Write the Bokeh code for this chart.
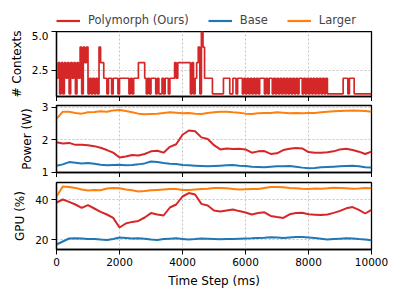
from bokeh.plotting import figure
from bokeh.layouts import column
from bokeh.models import Range1d, Legend, LegendItem, FixedTicker
from bokeh.embed import file_html
from bokeh.resources import INLINE

# ---------------- data ----------------
# number of contexts, sampled every 50 ms (step signal)
ctx_step_ms = 50
ctx = [
    2, 3, 1, 3, 1, 3, 2, 3, 1, 3, 2, 3, 1, 3, 2, 4, 1, 4, 3, 4,   # 0-1 s
    1, 2, 1, 2, 1, 2, 1, 4, 3, 3, 2, 2, 1, 2, 2, 1, 2, 2, 2, 1,   # 1-2 s
    2, 2, 2, 2, 2, 2, 1, 2, 1, 2, 2, 2, 3, 3, 3, 3, 2, 1, 2, 1,   # 2-3 s
    2, 2, 2, 1, 2, 1, 1, 2, 1, 2, 2, 1, 2, 2, 2, 3, 2, 3, 3, 3,   # 3-4 s
    3, 3, 3, 3, 3, 1, 3, 1, 2, 3, 4, 1, 5, 4, 2, 2, 2, 2, 2, 1,   # 4-5 s
    1, 1, 1, 1, 1, 1, 2, 2, 2, 2, 1, 1, 2, 2, 1, 2, 2, 2, 1, 2,   # 5-6 s
    1, 2, 1, 2, 1, 2, 1, 2, 1, 2, 2, 2, 1, 2, 1, 2, 2, 1, 2, 1,   # 6-7 s
    2, 1, 2, 1, 2, 1, 2, 1, 2, 1, 2, 1, 2, 1, 2, 2, 1, 2, 1, 2,   # 7-8 s
    1, 2, 1, 2, 1, 2, 1, 2, 1, 2, 1, 2, 1, 1, 1, 1, 1, 1, 1, 1,   # 8-9 s
    1, 1, 2, 2, 2, 1, 2, 2, 2, 1, 1, 1, 1, 1, 1, 1, 1, 1, 1, 1,   # 9-10 s
    1,
]
t_ctx = [i * ctx_step_ms for i in range(len(ctx))]

# power / GPU series, sampled every 200 ms
t_ms = list(range(0, 10001, 200))

power_poly = [1.92, 1.88, 1.90, 1.84, 1.84, 1.83, 1.80, 1.75, 1.68, 1.60,
              1.45, 1.48, 1.53, 1.51, 1.56, 1.64, 1.66, 1.60, 1.78, 1.86,
              2.15, 2.28, 2.26, 2.07, 2.02, 1.83, 1.70, 1.73, 1.71, 1.72,
              1.70, 1.60, 1.64, 1.65, 1.56, 1.58, 1.68, 1.72, 1.74, 1.73,
              1.62, 1.60, 1.60, 1.61, 1.64, 1.70, 1.72, 1.68, 1.63, 1.56,
              1.63]
power_base = [1.20, 1.24, 1.31, 1.29, 1.27, 1.28, 1.26, 1.23, 1.21, 1.22,
              1.23, 1.21, 1.22, 1.24, 1.27, 1.33, 1.31, 1.28, 1.26, 1.25,
              1.22, 1.21, 1.20, 1.19, 1.18, 1.19, 1.20, 1.21, 1.22, 1.20,
              1.19, 1.17, 1.16, 1.15, 1.17, 1.18, 1.18, 1.19, 1.17, 1.14,
              1.12, 1.13, 1.15, 1.16, 1.17, 1.18, 1.19, 1.20, 1.18, 1.15,
              1.14]
power_large = [2.64, 2.86, 2.86, 2.82, 2.80, 2.84, 2.85, 2.87, 2.86, 2.90,
               2.91, 2.88, 2.84, 2.80, 2.78, 2.79, 2.80, 2.82, 2.84, 2.83,
               2.81, 2.82, 2.80, 2.79, 2.82, 2.84, 2.86, 2.86, 2.84, 2.83,
               2.80, 2.79, 2.81, 2.82, 2.82, 2.84, 2.83, 2.81, 2.82, 2.81,
               2.82, 2.82, 2.84, 2.86, 2.87, 2.88, 2.89, 2.90, 2.89, 2.88,
               2.86]

gpu_poly = [38.5, 40.0, 38.8, 37.5, 35.8, 37.2, 35.5, 33.8, 32.5, 30.8,
            26.0, 28.0, 28.8, 29.3, 31.0, 33.2, 32.5, 32.0, 36.0, 37.5,
            41.5, 43.2, 42.5, 37.8, 37.0, 34.5, 34.0, 34.5, 35.0, 34.2,
            33.5, 32.5, 33.2, 33.6, 31.8, 31.2, 30.8, 32.6, 33.2, 33.4,
            32.6, 32.4, 32.2, 32.5, 33.3, 34.3, 35.6, 36.2, 34.8, 33.0,
            34.8]
gpu_base = [17.5, 19.0, 20.5, 20.6, 20.5, 20.2, 20.3, 20.0, 19.8, 20.3,
            21.0, 20.8, 20.5, 20.6, 20.4, 20.0, 19.8, 20.2, 20.4, 20.6,
            20.3, 20.0, 20.2, 20.5, 20.4, 20.3, 20.1, 20.2, 20.3, 20.4,
            20.5, 20.6, 20.8, 20.9, 21.1, 21.0, 20.8, 21.0, 21.2, 21.3,
            21.0, 20.7, 20.4, 20.0, 20.2, 20.4, 20.6, 20.5, 20.2, 20.0,
            19.6]
gpu_large = [41.5, 46.5, 46.3, 45.8, 45.0, 44.5, 44.7, 44.6, 45.5, 45.8,
             45.6, 45.0, 44.6, 44.0, 44.2, 44.6, 44.8, 45.0, 45.2, 45.3,
             44.8, 44.7, 45.0, 45.2, 45.4, 45.7, 45.8, 45.6, 45.3, 45.0,
             45.1, 45.2, 45.3, 45.8, 46.2, 46.3, 46.1, 45.8, 45.6, 45.4,
             45.3, 45.5, 45.4, 45.6, 45.9, 45.8, 45.6, 45.4, 45.5, 45.7,
             45.6]

series_names = ["Polymorph (Ours)", "Base", "Larger"]
x_ticks = [0, 2000, 4000, 6000, 8000, 10000]
ctx_ticks = [2.5, 5.0]
power_ticks = [1, 2, 3]
gpu_ticks = [20, 40]

RED, BLUE, ORANGE = "#d62728", "#1f77b4", "#ff7f0e"
FONT = "DejaVu Sans"
LEFT, RIGHT, W = 56, 24, 395

# ---------------- legend strip ----------------
p0 = figure(width=W, height=31, x_range=Range1d(0, 1), y_range=Range1d(0, 1),
            output_backend="svg", toolbar_location=None,
            x_axis_location=None, y_axis_location=None,
            min_border_left=LEFT, min_border_right=RIGHT,
            min_border_top=0, min_border_bottom=0)
p0.outline_line_color = None
p0.grid.visible = False
l_red = p0.line(t_ctx[:1], ctx[:1], line_color=RED, line_width=2.2)
l_blue = p0.line(t_ms[:1], power_base[:1], line_color=BLUE, line_width=2.2)
l_orange = p0.line(t_ms[:1], power_large[:1], line_color=ORANGE, line_width=2.2)
legend = Legend(items=[LegendItem(label=series_names[0], renderers=[l_red]),
                       LegendItem(label=series_names[1], renderers=[l_blue]),
                       LegendItem(label=series_names[2], renderers=[l_orange])],
                orientation="horizontal", location=(0, 4),
                label_text_font=FONT, label_text_font_size="11.5px",
                glyph_width=24, glyph_height=13, label_height=13,
                label_standoff=8, spacing=19, padding=0, margin=0,
                border_line_color=None, background_fill_alpha=0)
p0.add_layout(legend, "center")


# ---------------- panels ----------------
def make_fig(h, y0, y1, top_border, show_x):
    p = figure(width=W, height=h,
               x_range=Range1d(0, 10000), y_range=Range1d(y0, y1),
               output_backend="svg", toolbar_location=None,
               min_border_left=LEFT, min_border_right=RIGHT,
               min_border_top=top_border, min_border_bottom=0,
               background_fill_color="white", border_fill_color="white")
    p.outline_line_color = "black"
    p.outline_line_width = 1.3
    p.outline_line_alpha = 1
    for ax in [p.xaxis[0], p.yaxis[0]]:
        ax.axis_line_color = "black"
        ax.axis_line_width = 1.3
        ax.major_tick_line_color = "black"
        ax.major_tick_line_width = 1
        ax.major_tick_out = 5
        ax.major_tick_in = 0
        ax.minor_tick_line_color = None
        ax.major_label_text_font = FONT
        ax.major_label_text_font_size = "10.5px"
        ax.major_label_text_color = "black"
        ax.axis_label_text_font = FONT
        ax.axis_label_text_font_size = "12px"
        ax.axis_label_text_font_style = "normal"
        ax.axis_label_text_color = "black"
        ax.major_label_standoff = 3
        ax.axis_label_standoff = 5
    p.xaxis.ticker = FixedTicker(ticks=x_ticks)
    if not show_x:
        p.xaxis.major_label_text_alpha = 0
        p.xaxis.major_label_text_font_size = "1px"
        p.xaxis.major_label_standoff = 0
    for g in [p.xgrid[0], p.ygrid[0]]:
        g.grid_line_color = "#c4c4c4"
        g.grid_line_dash = "2 2"
        g.grid_line_width = 1
    return p


p1 = make_fig(70, 0.83, 5.0, 0, False)
p1.yaxis.ticker = FixedTicker(ticks=ctx_ticks)
p1.yaxis.major_label_overrides = {2.5: "2.5", 5: "5.0"}
p1.yaxis.axis_label = "# Contexts"
p1.step(t_ctx, ctx, mode="after", line_color=RED, line_width=1.7)

p2 = make_fig(76, 0.99, 3.05, 4, False)
p2.yaxis.ticker = FixedTicker(ticks=power_ticks)
p2.yaxis.axis_label = "Power (W)"
p2.line(t_ms, power_large, line_color=ORANGE, line_width=2)
p2.line(t_ms, power_poly, line_color=RED, line_width=2)
p2.line(t_ms, power_base, line_color=BLUE, line_width=2)

p3 = make_fig(113, 15, 48.5, 5, True)
p3.yaxis.ticker = FixedTicker(ticks=gpu_ticks)
p3.yaxis.axis_label = "GPU (%)"
p3.xaxis.axis_label = "Time Step (ms)"
p3.line(t_ms, gpu_large, line_color=ORANGE, line_width=2)
p3.line(t_ms, gpu_poly, line_color=RED, line_width=2)
p3.line(t_ms, gpu_base, line_color=BLUE, line_width=2)

layout = column(p0, p1, p2, p3, spacing=0)
open("out.html", "w").write(file_html(layout, INLINE))
